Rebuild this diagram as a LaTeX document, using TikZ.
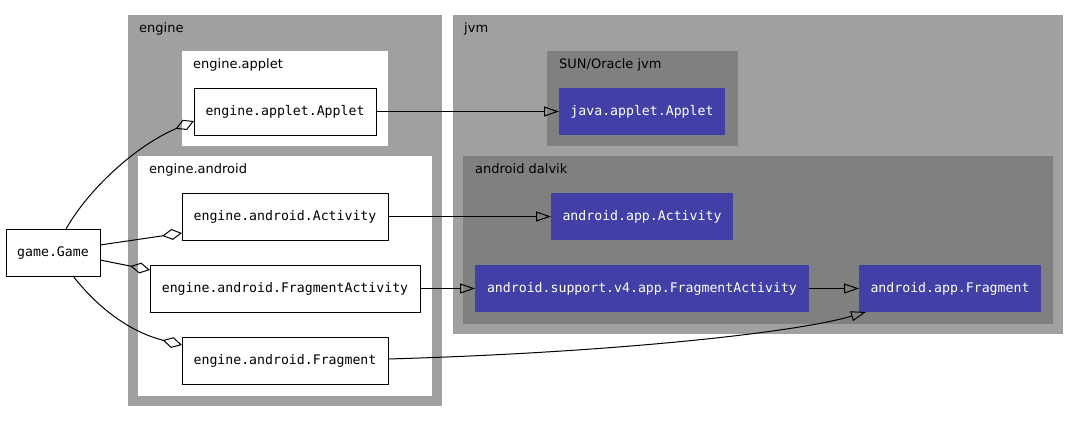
\documentclass[tikz,border=0pt]{standalone}
\usepackage{fontspec}
\setmainfont{DejaVu Sans}
\newfontfamily\monofam{DejaVu Sans Mono}
\usetikzlibrary{arrows.meta,calc}
\definecolor{clgray}{RGB}{160,160,160}
\definecolor{cldark}{RGB}{128,128,128}
\definecolor{clblue}{RGB}{66,64,166}
\tikzset{
  cluster/.style={draw=none,inner sep=0pt,outer sep=0pt},
  clabel/.style={anchor=north west,inner sep=0pt,font=\fontsize{13}{15}\selectfont},
  cls/.style={draw=black,line width=1pt,fill=white,inner sep=0pt,outer sep=0pt,text height=11.5pt,text depth=3pt,font=\monofam\fontsize{13.2}{15}\selectfont},
  jcls/.style={draw=none,fill=clblue,text=white,inner sep=0pt,outer sep=0pt,text height=11.5pt,text depth=3pt,font=\monofam\fontsize{13.2}{15}\selectfont},
  agg/.style={line width=1pt,-{Diamond[open,length=20pt,width=11pt,line width=1pt]}},
  inh/.style={line width=1pt,-{Triangle[open,length=15pt,width=10pt,line width=1pt]}},
}
\begin{document}
\begin{tikzpicture}[x=1pt,y=-1pt]
\useasboundingbox (0,0) rectangle (1080,423);
% clusters
\node[cluster,fill=clgray,minimum width=314pt,minimum height=391pt] (engine) at (285,210.5) {};
\node[cluster,fill=white,minimum width=206pt,minimum height=95pt] (eapplet) at (285,98.5) {};
\node[cluster,fill=white,minimum width=294pt,minimum height=240pt] (eandroid) at (285,276) {};
\node[cluster,fill=clgray,minimum width=610pt,minimum height=319pt] (jvm) at (758,174.5) {};
\node[cluster,fill=cldark,minimum width=191pt,minimum height=95pt] (sun) at (642.5,98.5) {};
\node[cluster,fill=cldark,minimum width=590pt,minimum height=168pt] (dalvik) at (758,240) {};
% cluster labels
\node[clabel] (lengine) at (139,22.5) {engine};
\node[clabel] (lapplet) at (193,58.5) {engine.applet};
\node[clabel] (landroid) at (149,163.5) {engine.android};
\node[clabel] (ljvm) at (464,22.5) {jvm};
\node[clabel] (lsun) at (559,58.5) {SUN/Oracle jvm};
\node[clabel] (ldalvik) at (475,163.5) {android dalvik};
% class nodes
\node[cls,minimum width=94pt,minimum height=47pt] (game) at (53,252.5) {game.Game};
\node[cls,minimum width=182pt,minimum height=47pt] (applet) at (285,111.5) {engine.applet.Applet};
\node[cls,minimum width=206pt,minimum height=47pt] (activity) at (285,216.5) {engine.android.Activity};
\node[cls,minimum width=270pt,minimum height=47pt] (factivity) at (285,288.5) {engine.android.FragmentActivity};
\node[cls,minimum width=206pt,minimum height=47pt] (fragment) at (285,360.5) {engine.android.Fragment};
\node[jcls,minimum width=166pt,minimum height=47pt] (japplet) at (642,111.5) {java.applet.Applet};
\node[jcls,minimum width=182pt,minimum height=47pt] (aactivity) at (642,216.5) {android.app.Activity};
\node[jcls,minimum width=334pt,minimum height=47pt] (sfactivity) at (642,288.5) {android.support.v4.app.FragmentActivity};
\node[jcls,minimum width=182pt,minimum height=47pt] (afragment) at (950,288.5) {android.app.Fragment};
% aggregation edges
\draw[agg] ($(game.north)+(13,0)$) .. controls (88,190) and (135,146) .. ($(applet.west)+(0,9.5)$);
\draw[agg] ($(game.east)+(0,-7.5)$) -- ($(activity.west)+(0,16.5)$);
\draw[agg] ($(game.east)+(0,7.5)$) -- ($(factivity.west)+(0,-18.5)$);
\draw[agg] ($(game.south)+(20,0)$) .. controls (98,308) and (130,332) .. ($(fragment.west)+(0,-15.5)$);
% inheritance edges
\draw[inh] (applet.east) -- (japplet.west);
\draw[inh] (activity.east) -- (aactivity.west);
\draw[inh] (factivity.east) -- (sfactivity.west);
\draw[inh] (sfactivity.east) -- (afragment.west);
\draw[inh] ($(fragment.east)+(0,-1.5)$) .. controls (600,353) and (790,334) .. ($(afragment.south west)+(7,0)$);
\end{tikzpicture}
\end{document}
